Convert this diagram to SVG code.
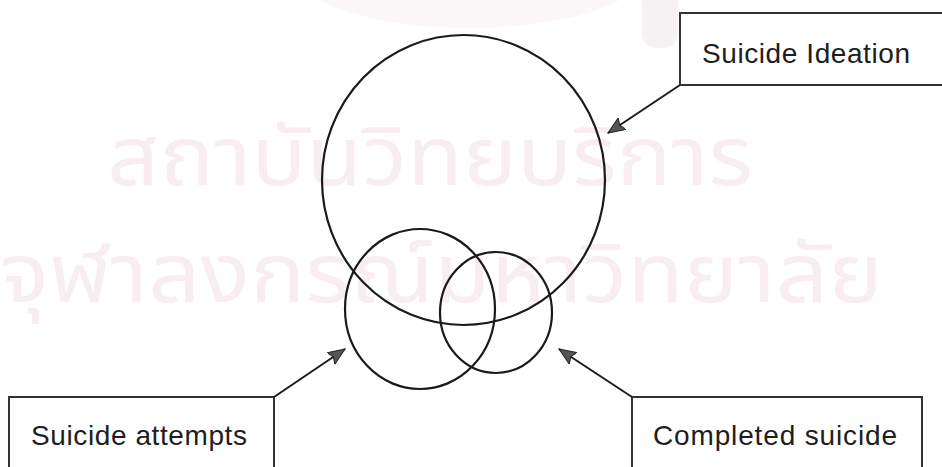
<svg xmlns="http://www.w3.org/2000/svg" width="942" height="467" viewBox="0 0 942 467">
<style>
.ring{fill:none;stroke:#1a1a1a;stroke-width:2.2}
.box{fill:none;stroke:#333;stroke-width:2}
.lbl{font-family:"Liberation Sans",Arial,sans-serif;font-size:28px;fill:#1e1e1e}
.wm{font-family:"Noto Sans Thai","Noto Sans Thai Looped",Loma,Garuda,"Tlwg Typo",sans-serif;font-size:82px;fill:#f8eef2}
.conn{fill:none;stroke:#1a1a1a;stroke-width:2}
</style>
<defs>
<marker id="ah" markerUnits="userSpaceOnUse" markerWidth="20" markerHeight="16" refX="17" refY="7" orient="auto">
<path d="M0,0 L17,7 L0,14 L3,7 Z" fill="#555" stroke="#222" stroke-width="1"/>
</marker>
</defs>
<rect width="942" height="467" fill="#fff"/>
<g id="watermark">
<ellipse cx="470" cy="-30" rx="175" ry="58" fill="#fcf7f9"/>
<rect x="642" y="-10" width="36" height="58" rx="14" fill="#f6f2f4"/>
<text class="wm" x="107" y="185" textLength="646" lengthAdjust="spacingAndGlyphs">สถาบันวิทยบริการ</text>
<text class="wm" x="0" y="302" textLength="883" lengthAdjust="spacingAndGlyphs">จุฬาลงกรณ์มหาวิทยาลัย</text>
</g>
<g id="suicide-ideation-circle">
<ellipse class="ring" cx="463.5" cy="180" rx="141.5" ry="145"/>
</g>
<g id="suicide-attempts-circle">
<ellipse class="ring" cx="420" cy="309" rx="75" ry="80"/>
</g>
<g id="completed-suicide-circle">
<ellipse class="ring" cx="496" cy="312.5" rx="56" ry="60.5"/>
</g>
<g id="label-suicide-ideation">
<rect class="box" x="680" y="13" width="280" height="72"/>
<text class="lbl" x="702" y="63" textLength="208" lengthAdjust="spacing">Suicide Ideation</text>
</g>
<g id="label-suicide-attempts">
<rect class="box" x="9" y="397" width="265" height="90"/>
<text class="lbl" x="31" y="445" textLength="216" lengthAdjust="spacing">Suicide attempts</text>
</g>
<g id="label-completed-suicide">
<rect class="box" x="632" y="397" width="290" height="90"/>
<text class="lbl" x="653" y="445" textLength="244" lengthAdjust="spacing">Completed suicide</text>
</g>
<g id="connectors">
<line class="conn" x1="680" y1="85" x2="608" y2="133" marker-end="url(#ah)"/>
<line class="conn" x1="274" y1="397" x2="345" y2="349" marker-end="url(#ah)"/>
<line class="conn" x1="632" y1="397" x2="559" y2="349" marker-end="url(#ah)"/>
</g>
</svg>
